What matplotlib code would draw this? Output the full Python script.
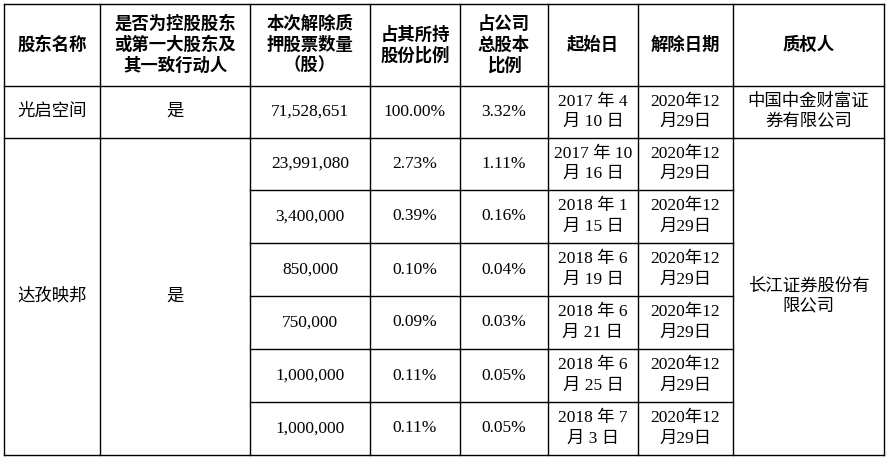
import matplotlib
matplotlib.use("Agg")
import matplotlib.pyplot as plt

headers = ["股东名称", "是否为控股股东\n或第一大股东及\n其一致行动人", "本次解除质\n押股票数量\n（股）",
           "占其所持\n股份比例", "占公司\n总股本\n比例", "起始日", "解除日期", "质权人"]
holders = ["光启空间", "达孜映邦"]
controlling = ["是", "是"]
pledgees = ["中国中金财富证\n券有限公司", "长江证券股份有\n限公司"]
holder_rows = [1, 6]
shares = ["71,528,651", "23,991,080", "3,400,000", "850,000", "750,000", "1,000,000", "1,000,000"]
pct_own = ["100.00%", "2.73%", "0.39%", "0.10%", "0.09%", "0.11%", "0.11%"]
pct_total = ["3.32%", "1.11%", "0.16%", "0.04%", "0.03%", "0.05%", "0.05%"]
start = ["2017 年 4\n月 10 日", "2017 年 10\n月 16 日", "2018 年 1\n月 15 日", "2018 年 6\n月 19 日",
         "2018 年 6\n月 21 日", "2018 年 6\n月 25 日", "2018 年 7\n月 3 日"]
release = ["2020年12\n月29日"] * 7

W, H = 887, 459
fig = plt.figure(figsize=(W/100, H/100), dpi=100)
ax = fig.add_axes([0, 0, 1, 1])
ax.set_xlim(0, W); ax.set_ylim(H, 0); ax.axis("off")

xs = [4, 100, 250, 370, 460, 548, 638, 733, 884]
ys = [4, 86, 138, 190, 243, 296, 349, 402, 455]
lw = 1.0
hfont = dict(family=["Noto Sans CJK SC"], fontweight="bold", fontsize=12.5)
bfont = dict(family=["Liberation Serif", "Noto Sans CJK SC"], fontsize=12.5)

for x in xs:
    ax.plot([x, x], [ys[0], ys[-1]], color="black", lw=lw)
for i, y in enumerate(ys):
    if i in (0, 1, 2, len(ys)-1):
        ax.plot([xs[0], xs[-1]], [y, y], color="black", lw=lw)
    else:
        ax.plot([xs[2], xs[7]], [y, y], color="black", lw=lw)

def cx(c): return (xs[c] + xs[c+1]) / 2
def cy(r0, r1): return (ys[r0] + ys[r1]) / 2

for c, h in enumerate(headers):
    ax.text(cx(c), cy(0, 1), h, ha="center", va="center", linespacing=1.2, **hfont)

spans = [(1, 2), (2, 8)]
for k, (r0, r1) in enumerate(spans):
    ax.text(cx(0), cy(r0, r1), holders[k], ha="center", va="center", **bfont)
    ax.text(cx(1), cy(r0, r1), controlling[k], ha="center", va="center", **bfont)
    ax.text(cx(7), cy(r0, r1), pledgees[k], ha="center", va="center", linespacing=1.35, **bfont)

for i in range(len(shares)):
    yc = cy(i+1, i+2)
    for c, col in zip(range(2, 7), [shares, pct_own, pct_total, start, release]):
        ax.text(cx(c), yc, col[i], ha="center", va="center", linespacing=1.35, **bfont)

fig.savefig("out.png", dpi=100, facecolor="white")
